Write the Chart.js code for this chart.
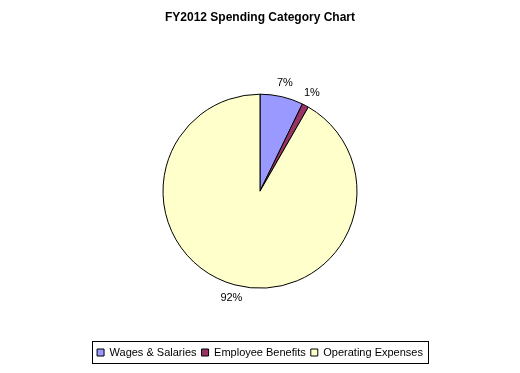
<!DOCTYPE html>
<html>
<head>
<meta charset="utf-8">
<script src="https://cdn.jsdelivr.net/npm/chart.js@4/dist/chart.umd.min.js"></script>
<style>
  html, body { margin: 0; padding: 0; background: #fff; }
  #wrap { width: 520px; height: 373px; }
</style>
</head>
<body>
<div id="wrap"><canvas id="myChart" width="520" height="373"></canvas></div>
<script>
let labels = ['Wages & Salaries', 'Employee Benefits', 'Operating Expenses'];
let values = [7.2, 1.1, 91.7];
let pctLabels = ['7%', '1%', '92%'];
let colorHex = ['#9999FF', '#993366', '#FFFFCC'];

// percentages drawn just outside each slice
const outsideLabels = {
    id: 'outsideLabels',
    afterDatasetsDraw(chart) {
        let ctx = chart.ctx;
        let meta = chart.getDatasetMeta(0);
        ctx.save();
        ctx.font = '11px "Liberation Sans", Arial, sans-serif';
        ctx.fillStyle = '#000';
        ctx.textAlign = 'center';
        ctx.textBaseline = 'middle';
        meta.data.forEach((arc, i) => {
            let mid = (arc.startAngle + arc.endAngle) / 2;
            let r = arc.outerRadius + 14;
            ctx.fillText(pctLabels[i], arc.x + Math.cos(mid) * r, arc.y + Math.sin(mid) * r);
        });
        ctx.restore();
    }
};

// box round the legend
const legendBorder = {
    id: 'legendBorder',
    afterDraw(chart) {
        let boxes = chart.legend.legendHitBoxes;
        if (!boxes || !boxes.length) return;
        let first = boxes[0], last = boxes[boxes.length - 1];
        let ctx = chart.ctx;
        ctx.save();
        ctx.strokeStyle = '#000';
        ctx.lineWidth = 1;
        let x1 = Math.round(first.left - 5) + 0.5;
        let x2 = Math.round(last.left + last.width + 5) + 0.5;
        let y1 = Math.round(first.top - 6) + 0.5;
        let y2 = Math.round(first.top + first.height + 5) + 0.5;
        ctx.strokeRect(x1, y1, x2 - x1, y2 - y1);
        ctx.restore();
    }
};

let ctx = document.getElementById('myChart').getContext('2d');
let myChart = new Chart(ctx, {
    type: 'pie',
    data: {
        labels: labels,
        datasets: [{
            data: values,
            backgroundColor: colorHex,
            borderColor: '#000',
            borderWidth: 1
        }]
    },
    plugins: [outsideLabels, legendBorder],
    options: {
        responsive: false,
        animation: false,
        radius: 97,
        layout: { padding: { top: 0, bottom: 5, left: 0, right: 0 } },
        plugins: {
            tooltip: { enabled: false },
            title: {
                display: true,
                text: 'FY2012 Spending Category Chart',
                color: '#000',
                font: { family: '"Liberation Sans", Arial, sans-serif', size: 12, weight: 'bold' },
                padding: { top: 10, bottom: 16 }
            },
            legend: {
                position: 'bottom',
                labels: {
                    color: '#000',
                    font: { family: '"Liberation Sans", Arial, sans-serif', size: 11 },
                    boxWidth: 7,
                    boxHeight: 7,
                    padding: 5,
                    generateLabels: (chart) => labels.map((l, i) => ({
                        text: l,
                        fillStyle: colorHex[i],
                        strokeStyle: '#000',
                        lineWidth: 1,
                        index: i
                    }))
                }
            }
        }
    }
});
</script>
</body>
</html>
